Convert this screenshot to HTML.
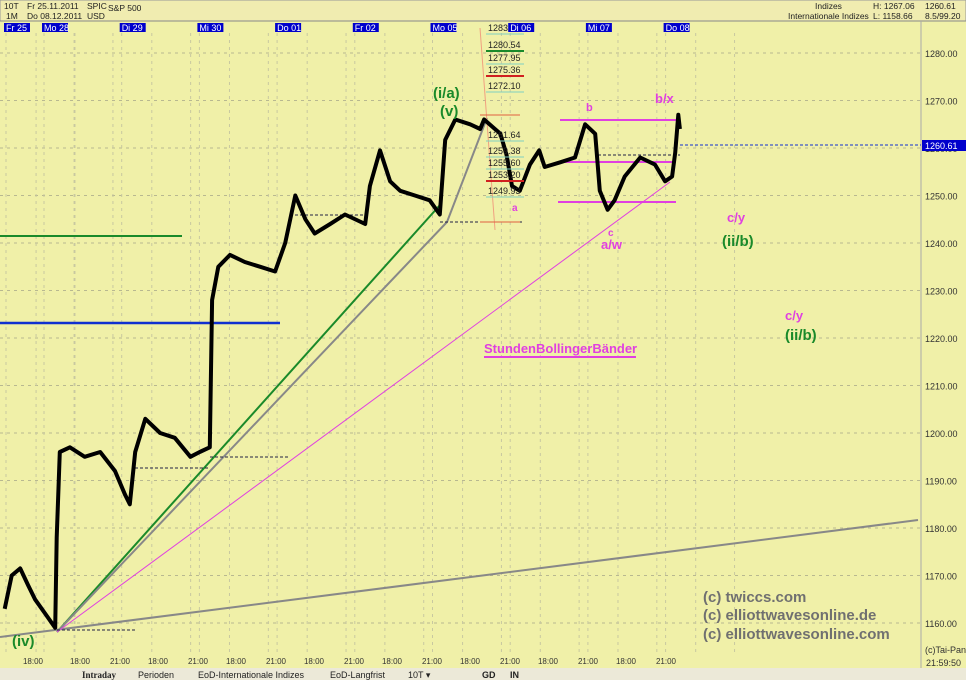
<!DOCTYPE html>
<html><head><meta charset="utf-8"><style>
body{margin:0;background:#f0f0a8;font-family:"Liberation Sans",sans-serif;}
svg{display:block}
</style></head><body>
<svg id="c" width="966" height="680" xmlns="http://www.w3.org/2000/svg" font-family="Liberation Sans, sans-serif">
<rect x="0" y="0" width="966" height="680" fill="#f0f0a8"/>
<rect x="0" y="0" width="966" height="21" fill="#f0ecb0" stroke="#999" stroke-width="1"/>
<g font-size="8.5" fill="#222">
<text x="4" y="9">10T</text><text x="27" y="9">Fr 25.11.2011</text><text x="87" y="9">SPIC</text><text x="108" y="11">S&amp;P 500</text>
<text x="6" y="19">1M</text><text x="27" y="19">Do 08.12.2011</text><text x="87" y="19">USD</text>
<text x="815" y="9">Indizes</text><text x="788" y="19">Internationale Indizes</text>
<text x="873" y="9">H: 1267.06</text><text x="873" y="19">L: 1158.66</text>
<text x="925" y="9">1260.61</text><text x="925" y="19">8.5/99.20</text>
</g>
<line x1="0" y1="21" x2="966" y2="21" stroke="#888"/>
<rect x="0" y="655" width="966" height="13" fill="#f0f0a8"/>
<rect x="0" y="668" width="966" height="12" fill="#ece9d8"/>
<g font-size="9" fill="#222">
<text x="82" y="678" font-weight="bold" font-family="Liberation Serif, serif">Intraday</text>
<text x="138" y="678">Perioden</text><text x="198" y="678">EoD-Internationale Indizes</text>
<text x="330" y="678">EoD-Langfrist</text><text x="408" y="678">10T ▾</text>
<text x="482" y="678" font-weight="bold">GD</text><text x="510" y="678" font-weight="bold">IN</text>
</g>
<line x1="921" y1="21" x2="921" y2="668" stroke="#aaa"/>
<g id="grid"></g><g id="days"></g><g id="lines"></g><g id="series"></g><g id="labels"></g>
<text x="925" y="653" font-size="9" fill="#333">(c)Tai-Pan</text>
<text x="926" y="666" font-size="9" fill="#333">21:59:50</text>
</svg>
<script>
const NS="http://www.w3.org/2000/svg";
// data
const priceTicks=[1160,1170,1180,1190,1200,1210,1220,1230,1240,1250,1260,1270,1280];
const dayLabels=["Fr 25","Mo 28","Di 29","Mi 30","Do 01","Fr 02","Mo 05","Di 06","Mi 07","Do 08"];
const times=[0.06,0.15,0.26,0.36,0.45,0.58,0.71,0.73,0.77,0.9,1.09,1.29,1.48,1.61,1.67,1.74,1.87,2.06,2.25,2.45,2.57,2.7,2.73,2.81,2.96,3.15,3.35,3.54,3.67,3.8,3.93,4.05,4.25,4.44,4.7,4.76,4.89,5.02,5.15,5.34,5.53,5.66,5.73,5.86,6.05,6.18,6.23,6.44,6.52,6.59,6.69,6.82,6.94,7.01,7.21,7.4,7.53,7.66,7.72,7.82,7.91,8.04,8.24,8.43,8.56,8.65,8.69,8.73,8.75];
const prices=[1163,1170,1171.5,1168,1165,1162,1159,1178,1196,1197,1195,1196,1192,1187,1185,1196,1203,1200,1199,1195,1196,1197,1228,1235,1237.5,1236,1235,1234,1240,1250,1245,1242,1244,1246,1244,1252,1259.5,1253,1251,1250,1249,1246,1261.7,1266,1265,1264,1266,1263,1258.5,1252,1251,1256.5,1259.5,1256,1257,1258,1265,1263,1251,1247,1249,1254,1258,1256.5,1253,1254,1259,1267,1264];
const fibLevels=[1283,1280.54,1277.95,1275.36,1272.10,1261.64,1259.38,1255.60,1253.20,1249.93];
const X=t=>t*77.7, Y=p=>148-(p-1260)*4.75;
const dayX=i=>i==0?5:43+(i-1)*77.7;
function mk(tag,attrs,parent){const e=document.createElementNS(NS,tag);for(const k in attrs)e.setAttribute(k,attrs[k]);parent.appendChild(e);return e;}
const grid=document.getElementById('grid'),days=document.getElementById('days'),lines=document.getElementById('lines'),ser=document.getElementById('series'),lab=document.getElementById('labels');
priceTicks.forEach(p=>{
 const l=mk('line',{x1:0,x2:921,y1:Y(p),y2:Y(p),stroke:'#b8b890','stroke-dasharray':'3,4'},grid);
 
 
 const t=mk('text',{x:925,y:Y(p)+4,'font-size':9,fill:'#333'},grid);t.textContent=p.toFixed(2);
 
 
});
dayLabels.forEach((d,i)=>{
 const x=dayX(i);
 const r=mk('rect',{x:x-1,y:23,width:d.length*5.2,height:9,fill:'#0000cc'},days);
 
 
 const t=mk('text',{x:x+1,y:31,'font-size':9,fill:'#fff'},days);t.textContent=d;
 
 
 mk('line',{x1:x+1,x2:x+1,y1:33,y2:655,stroke:'#c8c8a0','stroke-dasharray':'3,4'},grid);
 [0.4,0.9].forEach(f=>{mk('line',{x1:x+f*77.7,x2:x+f*77.7,y1:33,y2:655,stroke:'#c8c8a0','stroke-dasharray':'3,4'},grid);});
});
function tick(x,s){const a=mk('text',{x:x,y:664,'font-size':8,fill:'#333','text-anchor':'middle'},days);a.textContent=s;
 
 }
tick(33,'18:00');
for(let k=0;k<8;k++){tick(80+78*k,'18:00');tick(120+78*k,'21:00');}
function L(x1,y1,x2,y2,c,w,name,dash){const l=mk('line',{x1,y1,x2,y2,stroke:c,'stroke-width':w},lines);if(dash)l.setAttribute('stroke-dasharray',dash);
 
 }
L(0,637,918,520,'#888',2,'long-trendline');
L(57,632,440,205,'#1a8a2a',2,'green-trendline');
L(57,632,447,222,'#888',2,'gray-trendline');
L(447,222,487,118,'#888',2,'gray-trendline-2');
L(57,632,670,182,'#e040e0',1,'pink-trendline');
L(0,236,182,236,'#1a8a2a',2,'green-level');
L(0,323,280,323,'#1030d0',2.5,'blue-level');
L(560,120,676,120,'#e040e0',2,'bollinger-upper');
L(558,162,676,162,'#e040e0',2,'bollinger-mid');
L(558,202,676,202,'#e040e0',2,'bollinger-lower');
L(484,357,636,357,'#e040e0',2,'legend-underline');
L(57,630,135,630,'#224','1','dash-level','3,2');
L(135,468,210,468,'#224','1','dash-level','3,2');
L(210,457,290,457,'#224','1','dash-level','3,2');
L(290,215,370,215,'#224','1','dash-level','3,2');
L(440,222,522,222,'#224','1','dash-level','3,2');
L(598,155,680,155,'#224','1','dash-level','3,2');
L(680,145,921,145,'#1030d0','1','last-price-line','3,2');
L(480,28,495,230,'#f0a080',1,'fib-line');
L(480,115,520,115,'#e06040',1,'fib-line');
L(480,222,520,222,'#e06040',1,'fib-line');
let d='';times.forEach((t,i)=>{d+=(i?'L':'M')+X(t).toFixed(1)+' '+Y(prices[i]).toFixed(1)+' ';});
const pth=mk('path',{d,fill:'none',stroke:'#000','stroke-width':4,'stroke-linejoin':'round'},ser);


fibLevels.forEach((f,i)=>{
 const y=i<5?[27,44,57,69,85][i]:[134,150,162,174,190][i-5];
 const t=mk('text',{x:488,y:y+4,'font-size':9,fill:'#222'},lab);t.textContent=f.toFixed(f==1283?0:2);
 
 
 mk('line',{x1:486,x2:524,y1:y+7,y2:y+7,stroke:[1,3,8].includes(i)?(i==1?'#1a8a2a':'#d02020'):'#80d0c0','stroke-width':[1,3,8].includes(i)?2:1},lab);
});
const lr=mk('rect',{x:922,y:140,width:44,height:11,fill:'#0000cc'},lab);


const lt=mk('text',{x:925,y:149,'font-size':9,fill:'#fff'},lab);lt.textContent='1260.61';
function T(x,y,s,c,sz,name){const t=mk('text',{x,y,'font-size':sz,fill:c,'font-weight':'bold'},lab);t.textContent=s;
 
 }
T(12,646,'(iv)','#1a8a2a',15,'wave-label-iv');
T(433,98,'(i/a)','#1a8a2a',15,'wave-label-ia');
T(440,116,'(v)','#1a8a2a',15,'wave-label-v');
T(586,111,'b','#e040e0',11,'wave-label-b');
T(655,103,'b/x','#e040e0',13,'wave-label-bx');
T(512,211,'a','#e040e0',10,'wave-label-a');
T(608,236,'c','#e040e0',10,'wave-label-c');
T(601,249,'a/w','#e040e0',13,'wave-label-aw');
T(727,222,'c/y','#e040e0',13,'wave-label-cy');
T(722,246,'(ii/b)','#1a8a2a',15,'wave-label-iib');
T(785,320,'c/y','#e040e0',13,'wave-label-cy-2');
T(785,340,'(ii/b)','#1a8a2a',15,'wave-label-iib-2');
T(484,353,'StundenBollingerBänder','#e040e0',13,'bollinger-legend');
T(703,602,'(c) twiccs.com','#707070',15,'copyright-1');
T(703,620,'(c) elliottwavesonline.de','#707070',15,'copyright-2');
T(703,639,'(c) elliottwavesonline.com','#707070',15,'copyright-3');
</script>
</body></html>
